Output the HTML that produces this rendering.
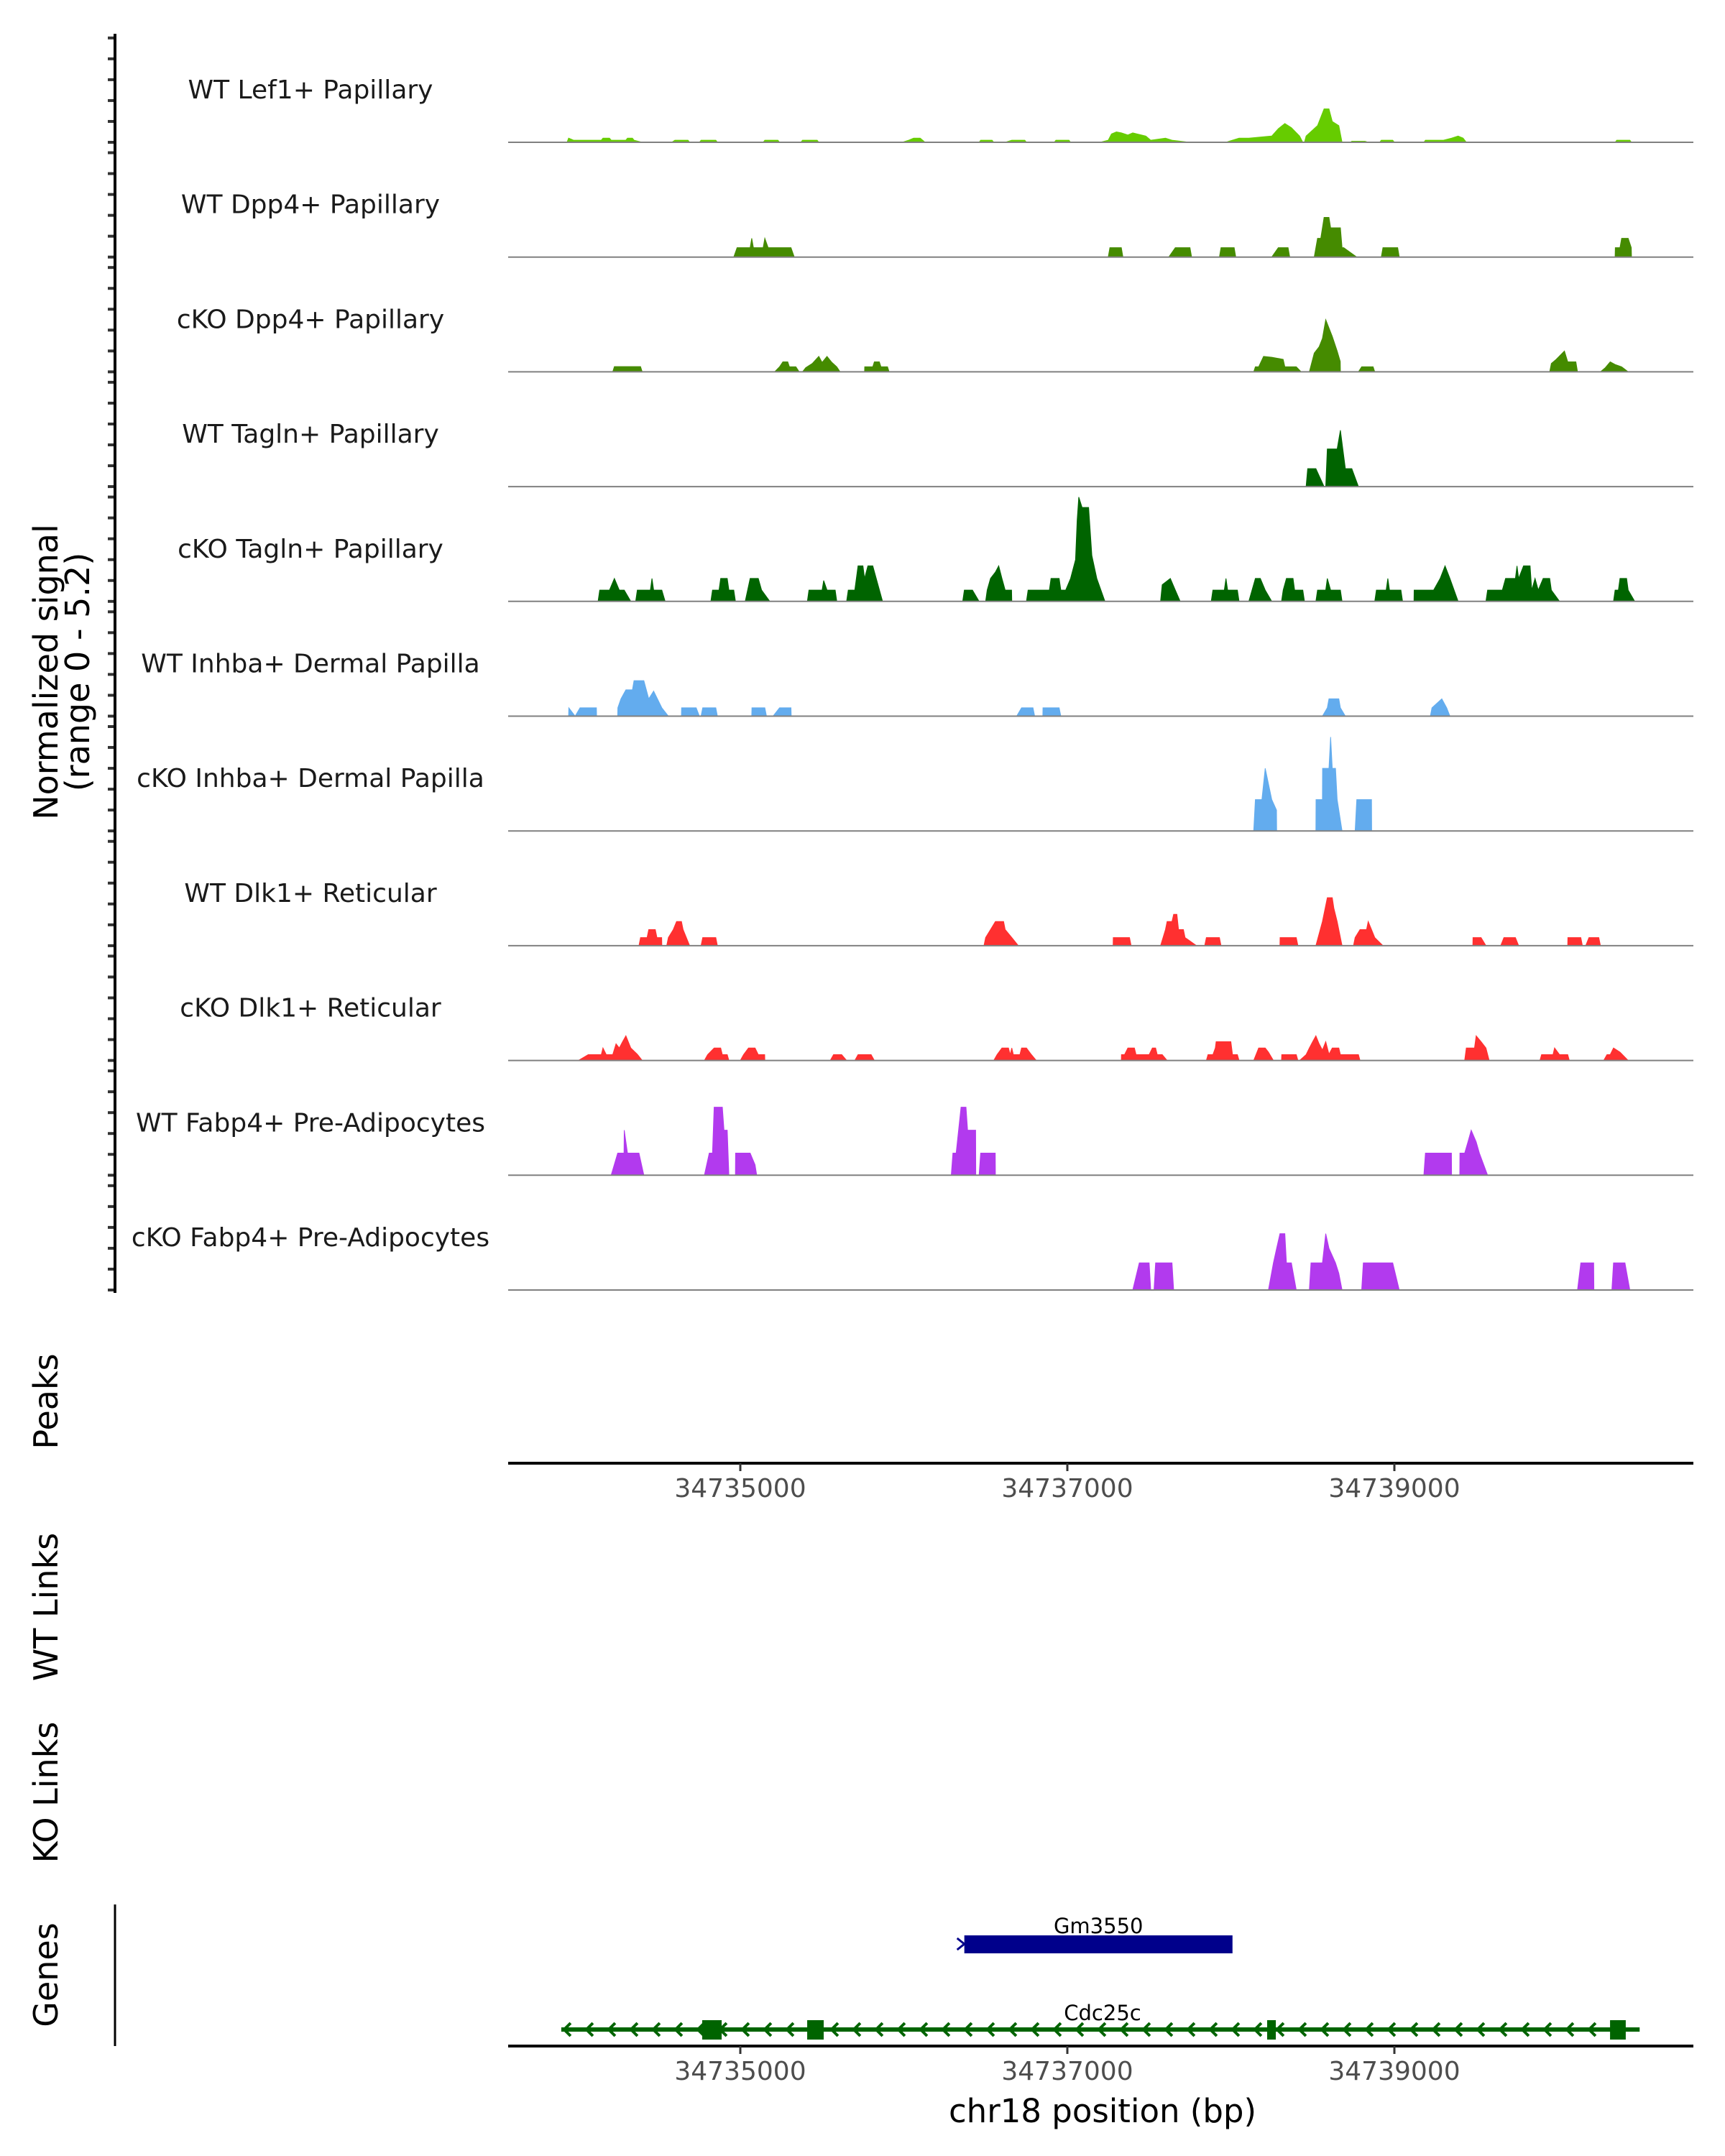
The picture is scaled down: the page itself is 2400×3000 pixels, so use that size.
<!DOCTYPE html>
<html><head><meta charset="utf-8"><style>
html,body{margin:0;padding:0;background:#fff}
svg{display:block;font-family:"DejaVu Sans","Liberation Sans",sans-serif}
</style></head><body>
<svg id="chart" width="2400" height="3000" viewBox="0 0 2400 3000" xmlns="http://www.w3.org/2000/svg">
<g id="tracks"></g>
<g id="axes"></g>
<g id="genes"></g>
<text transform="translate(80,935) rotate(-90)" text-anchor="middle" font-size="46" fill="#000">Normalized signal</text>
<text transform="translate(124,935) rotate(-90)" text-anchor="middle" font-size="46" fill="#000">(range 0 - 5.2)</text>
<text transform="translate(80,1950) rotate(-90)" text-anchor="middle" font-size="46" fill="#000">Peaks</text>
<text transform="translate(80,2236) rotate(-90)" text-anchor="middle" font-size="46" fill="#000">WT Links</text>
<text transform="translate(80,2494) rotate(-90)" text-anchor="middle" font-size="46" fill="#000">KO Links</text>
<text transform="translate(80,2748) rotate(-90)" text-anchor="middle" font-size="46" fill="#000">Genes</text>
<text x="1534" y="2953" text-anchor="middle" font-size="45" fill="#000">chr18 position (bp)</text>
</svg>
<script>
const trackNames = ["WT Lef1+ Papillary","WT Dpp4+ Papillary","cKO Dpp4+ Papillary","WT Tagln+ Papillary","cKO Tagln+ Papillary","WT Inhba+ Dermal Papilla","cKO Inhba+ Dermal Papilla","WT Dlk1+ Reticular","cKO Dlk1+ Reticular","WT Fabp4+ Pre-Adipocytes","cKO Fabp4+ Pre-Adipocytes"];
const trackColors = ["#66CC00","#458B00","#458B00","#006400","#006400","#63ACEE","#63ACEE","#FF3030","#FF3030","#B23AEE","#B23AEE"];
const xTicks = [34735000,34737000,34739000];
const xTickLabels = ["34735000","34737000","34739000"];
const yRangeMax = 5.2;
const yTickValues = [0,1,2,3,4,5];

const sigLef1WT = [
[[34733940,0],[34733950,0.2],[34733980,0.1],[34734150,0.1],[34734160,0.2],[34734200,0.2],[34734210,0.1],[34734300,0.1],[34734310,0.2],[34734340,0.2],[34734350,0.1],[34734400,0]],
[[34734580,0],[34734600,0.1],[34734680,0.1],[34734690,0]],
[[34734750,0],[34734760,0.1],[34734850,0.1],[34734860,0]],
[[34735140,0],[34735150,0.1],[34735230,0.1],[34735240,0]],
[[34735370,0],[34735380,0.1],[34735470,0.1],[34735480,0]],
[[34735990,0],[34736030,0.1],[34736060,0.2],[34736100,0.2],[34736130,0]],
[[34736460,0],[34736470,0.1],[34736540,0.1],[34736550,0]],
[[34736620,0],[34736660,0.1],[34736740,0.1],[34736750,0]],
[[34736920,0],[34736930,0.1],[34737010,0.1],[34737020,0]],
[[34737200,0],[34737250,0.1],[34737270,0.4],[34737300,0.5],[34737330,0.45],[34737370,0.35],[34737400,0.45],[34737480,0.3],[34737510,0.1],[34737600,0.2],[34737640,0.1],[34737750,0]],
[[34737970,0],[34737990,0.05],[34738050,0.2],[34738110,0.2],[34738250,0.3],[34738290,0.65],[34738330,0.9],[34738370,0.7],[34738420,0.3],[34738440,0]],
[[34738450,0],[34738460,0.3],[34738530,0.8],[34738570,1.6],[34738600,1.6],[34738620,1.0],[34738660,0.8],[34738680,0]],
[[34738730,0],[34738740,0.05],[34738820,0.05],[34738840,0]],
[[34738910,0],[34738920,0.1],[34738990,0.1],[34739000,0]],
[[34739180,0],[34739190,0.1],[34739300,0.1],[34739350,0.2],[34739390,0.3],[34739420,0.2],[34739440,0]],
[[34740350,0],[34740360,0.1],[34740440,0.1],[34740450,0]]];

const sigDpp4WT = [
[[34734960,0],[34734980,0.45],[34735060,0.45],[34735070,0.9],[34735080,0.45],[34735140,0.45],[34735150,0.9],[34735170,0.45],[34735310,0.45],[34735330,0]],
[[34737250,0],[34737260,0.45],[34737330,0.45],[34737340,0]],
[[34737620,0],[34737660,0.45],[34737750,0.45],[34737760,0]],
[[34737930,0],[34737940,0.45],[34738020,0.45],[34738030,0]],
[[34738250,0],[34738290,0.45],[34738350,0.45],[34738360,0]],
[[34738510,0],[34738530,0.9],[34738550,0.9],[34738570,1.9],[34738600,1.9],[34738610,1.4],[34738670,1.4],[34738680,0.45],[34738690,0.45],[34738770,0]],
[[34738920,0],[34738930,0.45],[34739020,0.45],[34739030,0]],
[[34740350,0],[34740351,0.45],[34740380,0.45],[34740390,0.9],[34740430,0.9],[34740449,0.45],[34740450,0]]];

const sigDpp4KO = [
[[34734220,0],[34734230,0.25],[34734390,0.25],[34734400,0]],
[[34735210,0],[34735240,0.24],[34735260,0.48],[34735290,0.48],[34735300,0.24],[34735340,0.24],[34735360,0]],
[[34735380,0],[34735400,0.2],[34735440,0.4],[34735480,0.74],[34735500,0.45],[34735530,0.74],[34735560,0.45],[34735590,0.24],[34735610,0]],
[[34735760,0],[34735761,0.24],[34735810,0.24],[34735820,0.48],[34735850,0.48],[34735860,0.24],[34735900,0.24],[34735910,0]],
[[34738140,0],[34738150,0.24],[34738170,0.24],[34738200,0.74],[34738250,0.7],[34738320,0.6],[34738330,0.24],[34738400,0.24],[34738430,0]],
[[34738480,0],[34738510,0.9],[34738540,1.2],[34738560,1.6],[34738580,2.5],[34738620,1.7],[34738650,1.0],[34738669,0.5],[34738670,0]],
[[34738780,0],[34738800,0.24],[34738870,0.24],[34738880,0]],
[[34739950,0],[34739960,0.4],[34739990,0.6],[34740040,1.0],[34740060,0.48],[34740110,0.48],[34740120,0]],
[[34740260,0],[34740290,0.2],[34740320,0.48],[34740350,0.35],[34740390,0.24],[34740430,0]]];

const sigTaglnWT = [
[[34738460,0],[34738470,0.86],[34738520,0.86],[34738570,0]],
[[34738580,0],[34738590,1.8],[34738650,1.8],[34738670,2.7],[34738700,0.86],[34738740,0.86],[34738780,0]]];

const sigTaglnKO = [
[[34734130,0],[34734140,0.54],[34734200,0.54],[34734230,1.1],[34734260,0.54],[34734290,0.54],[34734330,0]],
[[34734360,0],[34734370,0.54],[34734450,0.54],[34734460,1.1],[34734470,0.54],[34734520,0.54],[34734540,0]],
[[34734820,0],[34734830,0.54],[34734870,0.54],[34734880,1.1],[34734920,1.1],[34734930,0.54],[34734960,0.54],[34734970,0]],
[[34735030,0],[34735060,1.1],[34735110,1.1],[34735130,0.54],[34735180,0]],
[[34735410,0],[34735420,0.54],[34735500,0.54],[34735510,1.0],[34735530,0.54],[34735580,0.54],[34735590,0]],
[[34735650,0],[34735660,0.54],[34735700,0.54],[34735720,1.7],[34735750,1.7],[34735760,1.1],[34735780,1.7],[34735810,1.7],[34735870,0]],
[[34736360,0],[34736370,0.54],[34736420,0.54],[34736460,0]],
[[34736500,0],[34736510,0.54],[34736530,1.1],[34736560,1.4],[34736580,1.7],[34736600,1.1],[34736620,0.54],[34736659,0.54],[34736660,0]],
[[34736750,0],[34736760,0.54],[34736890,0.54],[34736900,1.1],[34736950,1.1],[34736960,0.54],[34736990,0.54],[34737020,1.1],[34737050,2.0],[34737060,3.9],[34737070,5.0],[34737090,4.5],[34737130,4.5],[34737150,2.2],[34737180,1.1],[34737230,0]],
[[34737570,0],[34737580,0.8],[34737630,1.1],[34737660,0.54],[34737690,0]],
[[34737880,0],[34737890,0.54],[34737960,0.54],[34737970,1.1],[34737980,0.54],[34738040,0.54],[34738050,0]],
[[34738110,0],[34738150,1.1],[34738180,1.1],[34738210,0.54],[34738250,0]],
[[34738310,0],[34738320,0.54],[34738340,1.1],[34738380,1.1],[34738390,0.54],[34738440,0.54],[34738450,0]],
[[34738520,0],[34738530,0.54],[34738580,0.54],[34738590,1.1],[34738610,0.54],[34738670,0.54],[34738680,0]],
[[34738880,0],[34738890,0.54],[34738950,0.54],[34738960,1.1],[34738970,0.54],[34739040,0.54],[34739050,0]],
[[34739120,0],[34739121,0.54],[34739240,0.54],[34739280,1.1],[34739310,1.7],[34739340,1.1],[34739390,0]],
[[34739560,0],[34739570,0.54],[34739660,0.54],[34739680,1.1],[34739740,1.1],[34739750,1.7],[34739760,1.1],[34739790,1.7],[34739830,1.7],[34739840,0.54],[34739860,1.1],[34739880,0.54],[34739910,1.1],[34739950,1.1],[34739960,0.54],[34740010,0]],
[[34740340,0],[34740350,0.54],[34740370,0.54],[34740380,1.1],[34740420,1.1],[34740430,0.54],[34740470,0]]];

const sigInhbaWT = [
[[34733950,0],[34733951,0.4],[34733990,0],[34734020,0.4],[34734120,0.4],[34734121,0]],
[[34734250,0],[34734251,0.4],[34734270,0.83],[34734300,1.26],[34734340,1.26],[34734350,1.7],[34734410,1.7],[34734440,0.83],[34734470,1.2],[34734520,0.4],[34734560,0]],
[[34734640,0],[34734641,0.4],[34734730,0.4],[34734750,0]],
[[34734760,0],[34734770,0.4],[34734850,0.4],[34734860,0]],
[[34735070,0],[34735071,0.4],[34735150,0.4],[34735160,0]],
[[34735200,0],[34735240,0.4],[34735310,0.4],[34735311,0]],
[[34736690,0],[34736720,0.4],[34736790,0.4],[34736800,0]],
[[34736850,0],[34736851,0.4],[34736950,0.4],[34736960,0]],
[[34738560,0],[34738590,0.4],[34738600,0.83],[34738660,0.83],[34738670,0.4],[34738700,0]],
[[34739220,0],[34739230,0.4],[34739290,0.83],[34739320,0.4],[34739340,0]]];

const sigInhbaKO = [
[[34738140,0],[34738150,1.5],[34738190,1.5],[34738210,3.0],[34738250,1.5],[34738279,1.0],[34738280,0]],
[[34738520,0],[34738521,1.5],[34738560,1.5],[34738561,3.0],[34738600,3.0],[34738610,4.5],[34738620,3.0],[34738640,3.0],[34738650,1.5],[34738680,0]],
[[34738760,0],[34738770,1.5],[34738860,1.5],[34738861,0]]];

const sigDlk1WT = [
[[34734380,0],[34734390,0.39],[34734430,0.39],[34734440,0.77],[34734480,0.77],[34734490,0.39],[34734519,0.39],[34734520,0]],
[[34734550,0],[34734560,0.39],[34734590,0.77],[34734610,1.16],[34734640,1.16],[34734650,0.77],[34734690,0]],
[[34734760,0],[34734770,0.39],[34734850,0.39],[34734860,0]],
[[34736490,0],[34736500,0.39],[34736530,0.77],[34736560,1.16],[34736610,1.16],[34736620,0.77],[34736660,0.39],[34736700,0]],
[[34737280,0],[34737281,0.39],[34737380,0.39],[34737390,0]],
[[34737570,0],[34737600,0.77],[34737610,1.16],[34737640,1.16],[34737650,1.5],[34737670,1.5],[34737680,0.77],[34737710,0.77],[34737720,0.39],[34737790,0]],
[[34737840,0],[34737850,0.39],[34737930,0.39],[34737940,0]],
[[34738300,0],[34738301,0.39],[34738400,0.39],[34738410,0]],
[[34738520,0],[34738560,1.16],[34738590,2.3],[34738620,2.3],[34738630,1.8],[34738650,1.16],[34738680,0]],
[[34738750,0],[34738760,0.39],[34738790,0.77],[34738830,0.77],[34738840,1.16],[34738860,0.77],[34738880,0.39],[34738930,0]],
[[34739480,0],[34739481,0.39],[34739530,0.39],[34739560,0]],
[[34739650,0],[34739670,0.39],[34739740,0.39],[34739760,0]],
[[34740060,0],[34740061,0.39],[34740140,0.39],[34740150,0]],
[[34740170,0],[34740190,0.39],[34740250,0.39],[34740260,0]]];

const sigDlk1KO = [
[[34734010,0],[34734070,0.28],[34734150,0.28],[34734160,0.6],[34734180,0.28],[34734220,0.28],[34734240,0.8],[34734260,0.6],[34734280,0.9],[34734300,1.18],[34734330,0.6],[34734370,0.3],[34734400,0]],
[[34734780,0],[34734800,0.28],[34734840,0.6],[34734880,0.6],[34734890,0.28],[34734920,0.28],[34734930,0]],
[[34735000,0],[34735020,0.28],[34735050,0.6],[34735090,0.6],[34735110,0.28],[34735149,0.28],[34735150,0]],
[[34735550,0],[34735570,0.28],[34735620,0.28],[34735650,0]],
[[34735700,0],[34735720,0.28],[34735800,0.28],[34735820,0]],
[[34736550,0],[34736570,0.28],[34736600,0.6],[34736640,0.6],[34736650,0.28],[34736660,0.6],[34736670,0.28],[34736710,0.28],[34736720,0.6],[34736750,0.6],[34736780,0.28],[34736810,0]],
[[34737330,0],[34737331,0.28],[34737350,0.28],[34737370,0.6],[34737410,0.6],[34737420,0.28],[34737500,0.28],[34737520,0.6],[34737540,0.6],[34737550,0.28],[34737580,0.28],[34737610,0]],
[[34737850,0],[34737860,0.28],[34737890,0.28],[34737905,0.6],[34737910,0.9],[34738000,0.9],[34738010,0.28],[34738040,0.28],[34738050,0]],
[[34738140,0],[34738170,0.6],[34738210,0.6],[34738230,0.4],[34738260,0]],
[[34738310,0],[34738311,0.28],[34738400,0.28],[34738410,0]],
[[34738420,0],[34738460,0.28],[34738480,0.6],[34738500,0.9],[34738520,1.18],[34738540,0.8],[34738560,0.5],[34738580,0.9],[34738600,0.3],[34738620,0.6],[34738660,0.6],[34738670,0.28],[34738780,0.28],[34738790,0]],
[[34739430,0],[34739440,0.6],[34739490,0.6],[34739500,1.18],[34739530,0.9],[34739560,0.6],[34739580,0]],
[[34739890,0],[34739900,0.28],[34739970,0.28],[34739980,0.6],[34740010,0.28],[34740060,0.28],[34740070,0]],
[[34740280,0],[34740300,0.28],[34740320,0.28],[34740340,0.6],[34740380,0.4],[34740430,0]]];

const sigFabp4WT = [
[[34734210,0],[34734250,1.06],[34734289,1.06],[34734290,2.16],[34734310,1.06],[34734380,1.06],[34734410,0]],
[[34734780,0],[34734810,1.06],[34734830,1.06],[34734840,3.26],[34734890,3.26],[34734900,2.16],[34734920,2.16],[34734930,0]],
[[34734970,0],[34734971,1.06],[34735060,1.06],[34735090,0.5],[34735100,0]],
[[34736290,0],[34736300,1.06],[34736320,1.06],[34736350,3.26],[34736380,3.26],[34736390,2.16],[34736439,2.16],[34736440,0]],
[[34736460,0],[34736470,1.06],[34736559,1.06],[34736560,0]],
[[34739180,0],[34739190,1.06],[34739349,1.06],[34739350,0]],
[[34739400,0],[34739401,1.06],[34739430,1.06],[34739450,1.6],[34739470,2.16],[34739500,1.6],[34739520,1.06],[34739570,0]]];

const sigFabp4KO = [
[[34737400,0],[34737440,1.3],[34737500,1.3],[34737510,0]],
[[34737530,0],[34737540,1.3],[34737640,1.3],[34737650,0]],
[[34738230,0],[34738260,1.3],[34738280,2.0],[34738300,2.7],[34738330,2.7],[34738340,1.3],[34738370,1.3],[34738400,0]],
[[34738480,0],[34738490,1.3],[34738560,1.3],[34738580,2.7],[34738600,2.0],[34738640,1.3],[34738660,0.8],[34738680,0]],
[[34738800,0],[34738810,1.3],[34738990,1.3],[34739030,0]],
[[34740120,0],[34740140,1.3],[34740219,1.3],[34740220,0]],
[[34740330,0],[34740340,1.3],[34740410,1.3],[34740440,0]]];

const trackSignals = [sigLef1WT,sigDpp4WT,sigDpp4KO,sigTaglnWT,sigTaglnKO,sigInhbaWT,sigInhbaKO,sigDlk1WT,sigDlk1KO,sigFabp4WT,sigFabp4KO];

const geneGm3550 = [34736370,34738010];
const geneCdc25c = [34733905,34740500];
const cdc25cExons = [[34734767,34734886],[34735409,34735510],[34738222,34738275],[34740319,34740415]];

// layout
const NS = "http://www.w3.org/2000/svg";
const plotLeft = 707, plotRight = 2356;
const refBp = 34735000, refPx = 1030, pxPerBp = 0.2275;
function xScale(bp){ return refPx + (bp - refBp) * pxPerBp; }
const firstBaseline = 198, trackStep = 159.7, trackHeight = 151;
function yScale(v, i){ return firstBaseline + i*trackStep - v/yRangeMax*trackHeight; }
function mk(tag, attrs, parent){ const e=document.createElementNS(NS,tag); for(const k in attrs) e.setAttribute(k,attrs[k]); parent.appendChild(e); return e; }

const gT = document.getElementById('tracks');
const gA = document.getElementById('axes');
const gG = document.getElementById('genes');

trackSignals.forEach((peaks, i) => {
  const base = yScale(0, i);
  const g = mk('g', {}, gT);
  
  
  peaks.forEach(pk => {
    const pts = pk.map(p => xScale(p[0]).toFixed(1) + ',' + yScale(p[1], i).toFixed(1)).join(' ');
    const poly = mk('polygon', {points: pts, fill: trackColors[i], stroke: trackColors[i], 'stroke-width': 1}, g);
    
    
  });
  const bl = mk('line', {x1: plotLeft, x2: plotRight, y1: base, y2: base, stroke: '#808080', 'stroke-width': 2}, g);
  
  
  const lab = mk('text', {x: 432, y: base - 71, 'text-anchor': 'middle', 'dominant-baseline': 'middle', 'font-size': 36, fill: '#1a1a1a'}, g);
  lab.textContent = trackNames[i];
  
  
  yTickValues.forEach(v => {
    const t = mk('line', {x1: 150, x2: 160, y1: yScale(v, i), y2: yScale(v, i), stroke: '#333', 'stroke-width': 4}, gA);
    
    
  });
});

const yAxis = mk('line', {x1: 160, x2: 160, y1: yScale(yRangeMax, 0), y2: yScale(0, trackSignals.length-1)+4, stroke: '#000', 'stroke-width': 4}, gA);



function xAxis(y, name){
  const g = mk('g', {}, gA);
  
  
  mk('line', {x1: plotLeft, x2: plotRight, y1: y, y2: y, stroke: '#000', 'stroke-width': 4}, g);
  xTicks.forEach((t, k) => {
    mk('line', {x1: xScale(t), x2: xScale(t), y1: y, y2: y+11, stroke: '#333', 'stroke-width': 3}, g);
    const tx = mk('text', {x: xScale(t), y: y+47, 'text-anchor': 'middle', 'font-size': 36, fill: '#4D4D4D'}, g);
    tx.textContent = xTickLabels[k];
    
    
  });
}
xAxis(2036, 'peaks-x-axis');
xAxis(2847, 'genes-x-axis');

const gAx = mk('line', {x1: 160, x2: 160, y1: 2650, y2: 2847, stroke: '#000', 'stroke-width': 3}, gG);



// Gm3550
const gmY = 2705;
const gmBar = mk('rect', {x: xScale(geneGm3550[0]), y: gmY-12, width: xScale(geneGm3550[1])-xScale(geneGm3550[0]), height: 25, fill: '#00008B'}, gG);


mk('path', {d: `M${xScale(geneGm3550[0])-10},${gmY-8} L${xScale(geneGm3550[0])},${gmY} L${xScale(geneGm3550[0])-10},${gmY+8}`, stroke: '#00008B', 'stroke-width': 3, fill: 'none'}, gG);
const gmLab = mk('text', {x: (xScale(geneGm3550[0])+xScale(geneGm3550[1]))/2, y: 2690, 'text-anchor': 'middle', 'font-size': 29, fill: '#000'}, gG);
gmLab.textContent = 'Gm3550';



// Cdc25c
const cdY = 2824;
const cdLine = mk('line', {x1: xScale(geneCdc25c[0]), x2: xScale(geneCdc25c[1]), y1: cdY, y2: cdY, stroke: '#006400', 'stroke-width': 6}, gG);


for (let x = xScale(geneCdc25c[0]) + 4; x < xScale(geneCdc25c[1]) - 10; x += 31) {
  mk('path', {d: `M${x+9},${cdY-9} L${x},${cdY} L${x+9},${cdY+9}`, stroke: '#006400', 'stroke-width': 4, fill: 'none'}, gG);
}
cdc25cExons.forEach(ex => {
  const r = mk('rect', {x: xScale(ex[0]), y: cdY-13, width: Math.max(10, xScale(ex[1])-xScale(ex[0])), height: 27, fill: '#006400'}, gG);
  
  
});
const cdLab = mk('text', {x: 1534, y: 2811, 'text-anchor': 'middle', 'font-size': 29, fill: '#000'}, gG);
cdLab.textContent = 'Cdc25c';


</script>
</body></html>
